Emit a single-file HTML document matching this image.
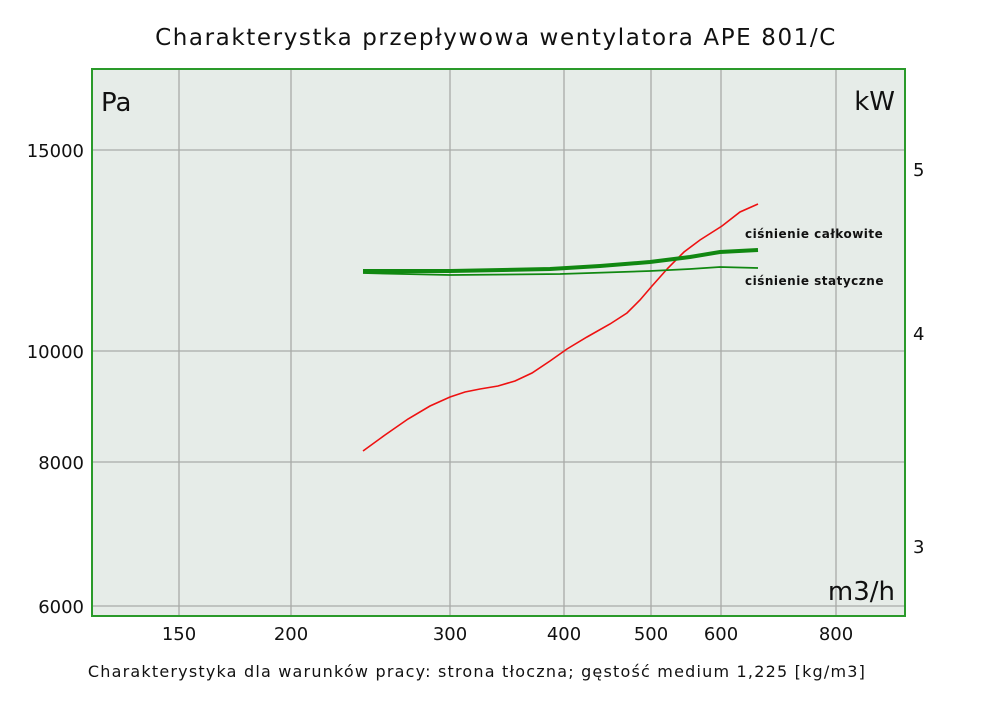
<!DOCTYPE html>
<html><head><meta charset="utf-8"><style>
body{margin:0;background:#fff;width:1000px;height:706px;overflow:hidden;font-family:"DejaVu Sans","Liberation Sans",sans-serif}
</style></head><body>
<svg width="1000" height="706" xmlns="http://www.w3.org/2000/svg">
<text x="496" y="45" font-size="23" text-anchor="middle" font-family="DejaVu Sans, sans-serif" fill="#111" letter-spacing="1.6">Charakterystka przepływowa wentylatora APE 801/C</text>
<rect x="92" y="69" width="813" height="547" fill="#e6ece8"/>
<g stroke="#a8aaa8" stroke-width="1.3">
<line x1="179" y1="69" x2="179" y2="616"/><line x1="291" y1="69" x2="291" y2="616"/>
<line x1="450" y1="69" x2="450" y2="616"/><line x1="564" y1="69" x2="564" y2="616"/>
<line x1="651" y1="69" x2="651" y2="616"/><line x1="721" y1="69" x2="721" y2="616"/>
<line x1="836" y1="69" x2="836" y2="616"/>
<line x1="92" y1="150" x2="905" y2="150"/><line x1="92" y1="351" x2="905" y2="351"/>
<line x1="92" y1="462" x2="905" y2="462"/><line x1="92" y1="606" x2="905" y2="606"/>
</g>
<rect x="92" y="69" width="813" height="547" fill="none" stroke="#2a9a2a" stroke-width="2"/>
<polyline fill="none" stroke="#ee1111" stroke-width="1.6" points="363,451 385,435 408,419 430,406 450,397 465,392 480,389 498,386 515,381 532,373 550,361 567,349 587,337 610,324 627,313 640,300 652,286 668,268 684,252 700,240 722,226 740,212 758,204"/>
<polyline fill="none" stroke="#118811" stroke-width="4" points="363,271 450,271 550,269 600,266 650,262 690,257 720,252 758,250"/>
<polyline fill="none" stroke="#118811" stroke-width="1.8" points="363,273 450,275 560,274 650,271 690,269 720,267 758,268"/>
<g font-family="DejaVu Sans, sans-serif" font-size="12" font-weight="bold" fill="#111" letter-spacing="0.5">
<text x="745" y="238">ciśnienie całkowite</text>
<text x="745" y="285">ciśnienie statyczne</text>
</g>
<g font-size="26" fill="#111" font-family="DejaVu Sans, sans-serif">
<text x="101" y="111">Pa</text>
<text x="895" y="110" text-anchor="end">kW</text>
<text x="895" y="600" text-anchor="end">m3/h</text>
</g>
<g font-size="18" fill="#111" font-family="DejaVu Sans, sans-serif">
<text x="84" y="157" text-anchor="end">15000</text>
<text x="84" y="358" text-anchor="end">10000</text>
<text x="84" y="469" text-anchor="end">8000</text>
<text x="84" y="613" text-anchor="end">6000</text>
<text x="913" y="176">5</text>
<text x="913" y="340">4</text>
<text x="913" y="553">3</text>
<g text-anchor="middle">
<text x="179" y="640">150</text><text x="291" y="640">200</text><text x="450" y="640">300</text>
<text x="564" y="640">400</text><text x="651" y="640">500</text><text x="721" y="640">600</text><text x="836" y="640">800</text>
</g>
</g>
<text x="477" y="677" font-size="16" text-anchor="middle" fill="#111" font-family="DejaVu Sans, sans-serif" letter-spacing="1.2">Charakterystyka dla warunków pracy: strona tłoczna; gęstość medium 1,225 [kg/m3]</text>
</svg>
</body></html>
